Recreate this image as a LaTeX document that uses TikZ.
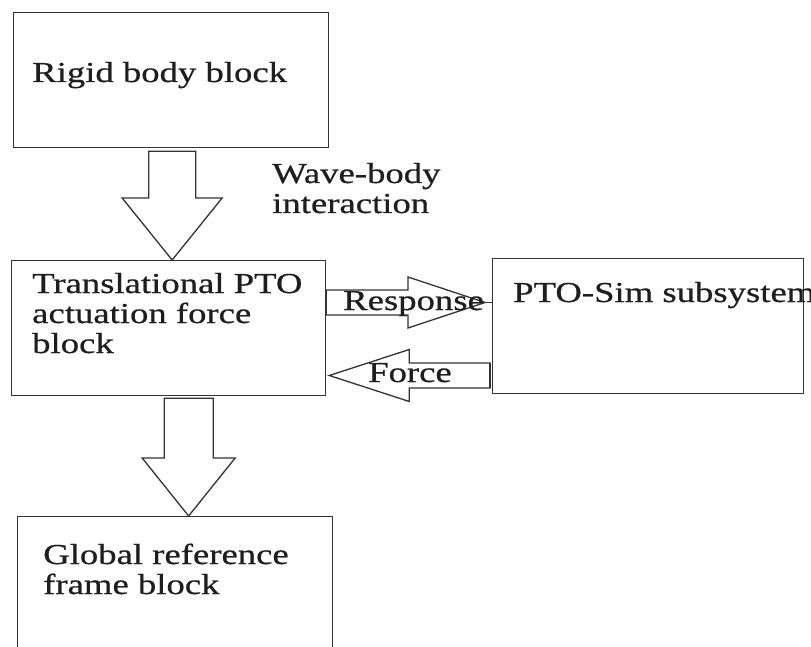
\documentclass[tikz,border=0pt]{standalone}
\usepackage{fontspec}
\setmainfont[FakeStretch=1.27,FakeBold=0.6]{Liberation Serif}
\usetikzlibrary{calc}

\definecolor{edge}{HTML}{333333}
\definecolor{ink}{HTML}{1E1E1E}

% hollow block arrow pointing down: start, tip, shaft half width, head half width, head length
\newcommand\downblockarrow[5]{%
  \draw[blk] let \p1=(#1), \p2=(#2) in
    (\x1-#3pt,\y1) -- (\x1-#3pt,\y2+#5pt) -- (\x1-#4pt,\y2+#5pt) -- (\x1,\y2)
    -- (\x1+#4pt,\y2+#5pt) -- (\x1+#3pt,\y2+#5pt) -- (\x1+#3pt,\y1) -- cycle;}
% hollow block arrow, horizontal: start, tip, shaft half width, head half width, signed head length
\newcommand\sideblockarrow[5]{%
  \draw[blk] let \p1=(#1), \p2=(#2) in
    (\x1,\y1+#3pt) -- (\x2-#5pt,\y1+#3pt) -- (\x2-#5pt,\y1+#4pt) -- (\x2,\y1)
    -- (\x2-#5pt,\y1-#4pt) -- (\x2-#5pt,\y1-#3pt) -- (\x1,\y1-#3pt) -- cycle;}

\begin{document}
\begin{tikzpicture}[x=1pt,y=-1pt,
  box/.style={draw=edge, line width=1.3pt, rectangle, inner sep=0pt,
    minimum height=135pt, anchor=north west},
  blk/.style={draw=edge, line width=1.3pt, fill=white, line join=miter},
  lbl/.style={text=ink, inner sep=0pt, align=left,
    font=\fontsize{28.9}{30}\selectfont}]
  \clip (0,0) rectangle (811,647);
  \fill[white] (0,0) rectangle (811,647);

  % blocks
  \node[box, minimum width=315pt] (rigid)  at (13,12)  {};
  \node[box, minimum width=314pt] (trans)  at (11,260) {};
  \node[box, minimum width=311pt] (ptosim) at (492,258) {};
  \node[box, minimum width=315pt] (global) at (17,516) {};

  % block texts (base anchor sits on the last line)
  \node[lbl, anchor=base west] (trigid)  at (32,82)   {Rigid body block};
  \node[lbl, anchor=base west] (ttrans)  at (32,353)  {Translational PTO\\actuation force\\block};
  \node[lbl, anchor=base west] (tptosim) at (513,302) {PTO-Sim subsystem};
  \node[lbl, anchor=base west] (tglobal) at (43,594)  {Global reference\\frame block};

  % rigid body -> PTO block
  \coordinate (a1s) at ($(rigid.south)+(1,3)$);
  \coordinate (a1t) at (a1s |- trans.north);
  \downblockarrow{a1s}{a1t}{23.5}{50}{62}
  \node[lbl, anchor=base west] (twave) at (272,213) {Wave-body\\interaction};

  % PTO block -> global reference frame
  \coordinate (a2s) at ($(trans.south)+(20,2)$);
  \coordinate (a2t) at (a2s |- global.north);
  \downblockarrow{a2s}{a2t}{24.5}{46.5}{58}

  % response to the PTO-Sim subsystem
  \coordinate (a3s) at ($(trans.north east)+(0,42.5)$);
  \coordinate (a3e) at (a3s -| ptosim.west);
  \coordinate (a3t) at ($(a3e)+(-7,0)$);
  \sideblockarrow{a3s}{a3t}{12.5}{25.5}{77}
  \draw[edge, line width=1.3pt] (a3t) -- (a3e);
  \node[lbl, anchor=base west] (tresp) at (343,310) {Response};

  % force back to the PTO block
  \coordinate (a4s) at ($(ptosim.north west)+(-2,117.5)$);
  \coordinate (a4t) at ($(a4s -| trans.east)+(3,0)$);
  \sideblockarrow{a4s}{a4t}{12.5}{26}{-80}
  \draw[edge, line width=2pt] ($(a4s)+(0,-12.5)$) -- ($(a4s)+(0,12.5)$);
  \node[lbl, anchor=base west] (tforce) at (368,382) {Force};
\end{tikzpicture}
\end{document}
